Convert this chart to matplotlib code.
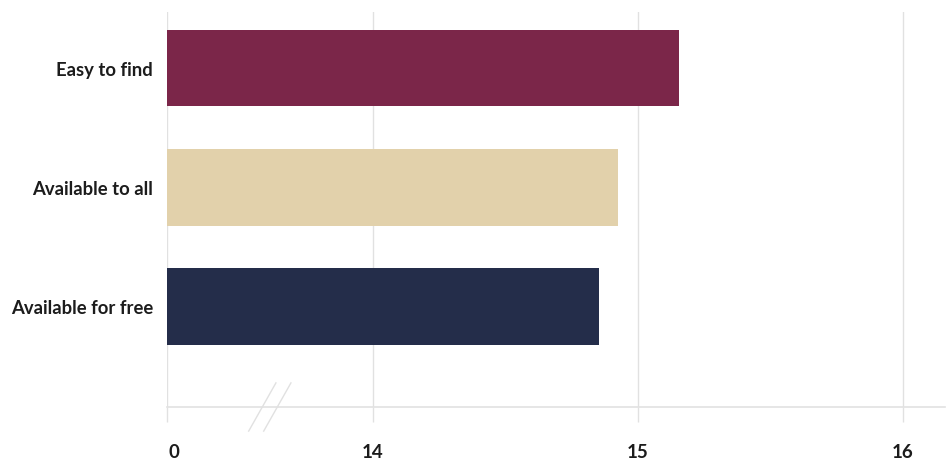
#!/usr/bin/env python3
"""Horizontal bar chart with a broken x axis (0 // 14-16)."""

import matplotlib
matplotlib.use("Agg")
import matplotlib.pyplot as plt
import numpy as np
from matplotlib.lines import Line2D
from matplotlib.transforms import ScaledTranslation

# ── Data ──
categories = ["Easy to find", "Available to all", "Available for free"]
values = [15.155, 14.925, 14.853]
colors = ["#7b2649", "#e2d1ab", "#242d4a"]
tick_values = [0, 14, 15, 16]
tick_labels = ["0", "14", "15", "16"]

GRID = "#e1e1e1"
TEXT = "#1c1c1c"

# width of the squeezed 0-14 segment, in units of the 14-16 range
BREAK_AT = 14
SQUEEZE = 0.777


def forward(v):
    v = np.asarray(v, dtype=float)
    return np.where(v <= BREAK_AT, v * SQUEEZE / BREAK_AT, SQUEEZE + v - BREAK_AT)


def inverse(u):
    u = np.asarray(u, dtype=float)
    return np.where(u <= SQUEEZE, u * BREAK_AT / SQUEEZE, u - SQUEEZE + BREAK_AT)


plt.rcParams["font.family"] = ["Lato", "DejaVu Sans"]

fig = plt.figure(figsize=(9.47, 4.6), dpi=100)
ax = fig.add_axes([167 / 947, 52 / 460, 778 / 947, 395 / 460])

ax.set_xscale("function", functions=(forward, inverse))
ypos = np.arange(len(categories))
ax.barh(ypos, values, height=0.64, color=colors, zorder=3)

ax.set_xlim(0, 16.16)
ax.set_ylim(2.845, -0.474)

# vertical guides at every tick, including the zero line
for v in tick_values:
    ax.axvline(v, color=GRID, lw=1.0, zorder=1)

ax.set_xticks(tick_values)
ax.set_xticklabels(tick_labels)
ax.tick_params(axis="x", length=11, width=1.0, color=GRID, pad=15,
               labelsize=13.5, labelcolor=TEXT)
for lbl in ax.get_xticklabels():
    lbl.set_fontweight("bold")
# nudge the "0" label off the zero line
ax.get_xticklabels()[0].set_transform(
    ax.get_xticklabels()[0].get_transform()
    + ScaledTranslation(7 / 100, 0, fig.dpi_scale_trans))

ax.set_yticks(ypos)
ax.set_yticklabels(categories)
ax.tick_params(axis="y", length=0, pad=10, labelsize=13.3, labelcolor=TEXT)
for lbl in ax.get_yticklabels():
    lbl.set_fontweight("bold")

for side in ["top", "right", "left"]:
    ax.spines[side].set_visible(False)
ax.spines["bottom"].set_color(GRID)
ax.spines["bottom"].set_linewidth(1.2)

# axis break marks
for dx in (0.0, 0.0193):
    ax.add_line(Line2D([0.105 + dx, 0.140 + dx], [-0.061, 0.061],
                       transform=ax.transAxes, color=GRID, lw=1.0,
                       clip_on=False, zorder=4))

fig.savefig("out.png", dpi=100, facecolor="white")
